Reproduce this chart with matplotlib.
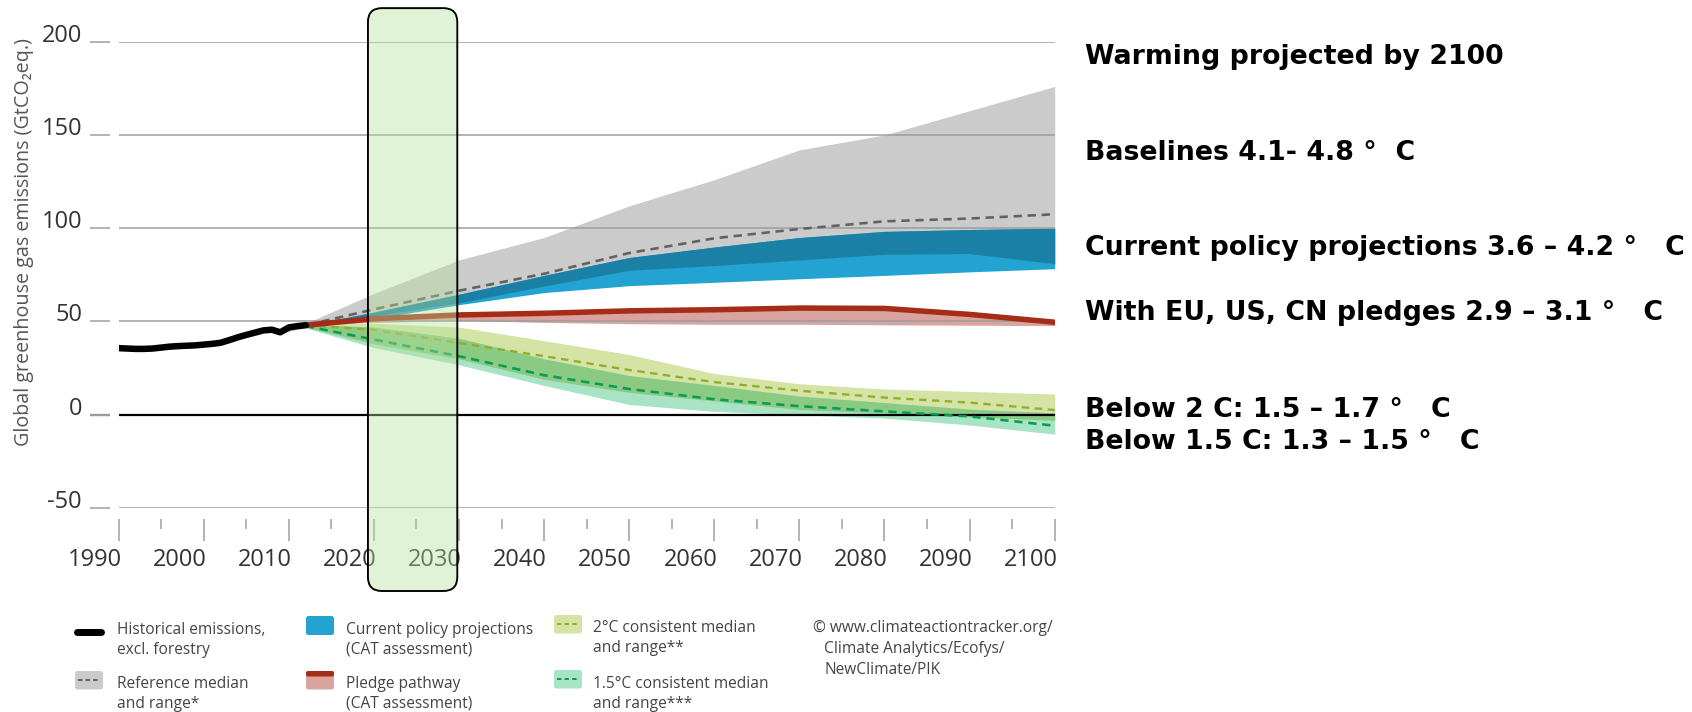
import matplotlib
matplotlib.use("Agg")
import matplotlib.pyplot as plt
import numpy as np
from matplotlib.patches import FancyBboxPatch
from matplotlib.transforms import IdentityTransform, ScaledTranslation
from matplotlib.lines import Line2D

# ---------------- data ----------------
hist_years = list(range(1990, 2013))
hist_vals = [35.7, 35.5, 35.3, 35.3, 35.5, 36.0, 36.5, 36.8, 37.0, 37.2, 37.6, 38.0,
             38.6, 40.0, 41.5, 42.8, 44.0, 45.2, 45.6, 44.2, 46.8, 47.5, 48.0]

proj_years = [2012, 2020, 2030, 2040, 2050, 2060, 2070, 2080, 2090, 2100]

ref_years = [2009, 2012, 2020, 2030, 2040, 2050, 2060, 2070, 2080, 2090, 2100]
ref_upper = [46.0, 49.0, 65.0, 83.0, 95.0, 112.0, 126.0, 142.0, 150.0, 163.0, 176.0]
ref_median = [45.0, 48.0, 56.5, 66.5, 75.6, 86.7, 94.6, 99.6, 103.7, 105.2, 107.5]
ref_lower = [43.5, 47.0, 53.0, 60.0, 69.0, 77.5, 80.0, 83.0, 86.0, 86.4, 81.0]

cur_upper = [48.0, 55.0, 64.6, 74.7, 84.3, 89.9, 95.0, 98.3, 99.3, 100.0]
cur_lower = [48.0, 51.5, 59.0, 65.5, 69.2, 71.0, 72.9, 74.7, 76.6, 78.3]

pledge_upper = [48.0, 51.5, 53.5, 54.4, 55.7, 56.3, 57.2, 57.0, 53.8, 49.6]
pledge_lower = [48.0, 49.5, 50.5, 49.5, 48.8, 48.5, 48.5, 48.2, 48.0, 47.8]

two_upper = [49.0, 49.0, 47.0, 39.7, 32.3, 22.1, 16.6, 13.8, 12.5, 11.1]
two_median = [48.0, 45.5, 38.5, 31.4, 24.0, 17.5, 12.9, 9.2, 6.5, 2.5]
two_lower = [47.0, 38.0, 30.0, 19.0, 12.0, 7.4, 2.8, 0.9, -1.0, -3.0]

one5_upper = [48.5, 47.0, 41.0, 30.0, 21.0, 15.7, 10.0, 6.5, 3.0, 1.0]
one5_median = [47.5, 40.3, 31.4, 21.2, 13.8, 8.3, 4.6, 1.8, -0.9, -5.9]
one5_lower = [46.5, 36.0, 26.8, 15.7, 5.5, 1.8, 0.0, -1.8, -5.5, -10.4]

y_ticks = [-50, 0, 50, 100, 150, 200]
x_major = list(range(1990, 2101, 10))
x_minor = list(range(1995, 2100, 10))

box_years = (2019.3, 2029.8)
box_vals = (218.0, -94.5)

right_texts = ["Warming projected by 2100",
               "Baselines 4.1- 4.8 °  C",
               "Current policy projections 3.6 – 4.2 °   C",
               "With EU, US, CN pledges 2.9 – 3.1 °   C",
               "Below 2 C: 1.5 – 1.7 °   C",
               "Below 1.5 C: 1.3 – 1.5 °   C"]
right_text_y = [57, 153, 248, 313, 410, 442]

legend_labels = [["Historical emissions,", "excl. forestry"],
                 ["Reference median", "and range*"],
                 ["Current policy projections", "(CAT assessment)"],
                 ["Pledge pathway", "(CAT assessment)"],
                 ["2°C consistent median", "and range**"],
                 ["1.5°C consistent median", "and range***"]]
credit_lines = ["© www.climateactiontracker.org/", "Climate Analytics/Ecofys/", "NewClimate/PIK"]

# ---------------- colours ----------------
C_GRAY = "#cbcbcb"
C_GRAY_MED = "#626262"
C_BLUE = "#22a3d1"
C_BLUE_DARK = "#1b80a5"
C_RED = "#a52c17"
C_PINK = "#d9a49f"
C_YG = "#d5e3a4"
C_YG_MED = "#8fae2c"
C_MINT = "#a7e3c4"
C_MINT_MED = "#0a9c55"
C_OVER = "#8bca82"
C_GRID = "#9c9c9c"
C_TXT = "#333333"

W, H = 1692, 712
DPI = 100
SANS = ["Open Sans", "DejaVu Sans"]

fig = plt.figure(figsize=(W / DPI, H / DPI), dpi=DPI)
fig.patch.set_facecolor("white")

ax_left, ax_right = 118.6, 1054.7
ax_top, ax_bot = 41.7, 508.0
ax = fig.add_axes([ax_left / W, 1 - ax_bot / H, (ax_right - ax_left) / W, (ax_bot - ax_top) / H])
ax.set_xlim(1990, 2100)
ax.set_ylim(-50, 200)
ax.patch.set_alpha(0)
for s in ax.spines.values():
    s.set_visible(False)

px2pt = 72.0 / DPI

# bands
ax.fill_between(ref_years, ref_lower, ref_upper, color=C_GRAY, lw=0, zorder=1)
ax.fill_between(proj_years, cur_lower, cur_upper, color=C_BLUE, lw=0, zorder=2)
ov_lo = np.maximum(cur_lower, ref_lower[1:])
ov_hi = np.minimum(cur_upper, ref_upper[1:])
ax.fill_between(proj_years, ov_lo, ov_hi, where=ov_hi >= ov_lo, color=C_BLUE_DARK, lw=0, zorder=2.1)
ax.fill_between(proj_years, pledge_lower, pledge_upper, color=C_PINK, lw=0, zorder=2)
ax.fill_between(proj_years, two_lower, two_upper, color=C_YG, lw=0, zorder=2)
ax.fill_between(proj_years, one5_lower, one5_upper, color=C_MINT, lw=0, zorder=2.05)
g_lo = np.maximum(two_lower, one5_lower)
g_hi = np.minimum(two_upper, one5_upper)
ax.fill_between(proj_years, g_lo, g_hi, where=g_hi >= g_lo, color=C_OVER, lw=0, zorder=2.1)

# gridlines
for v in y_ticks:
    if v == 0:
        ax.axhline(v, color="black", lw=2.2 * px2pt, zorder=3.5)
    else:
        ax.axhline(v, color=C_GRID, lw=1.5 * px2pt, zorder=3)

# lines
ax.plot(ref_years, ref_median, color=C_GRAY_MED, lw=2.6 * px2pt, dashes=(3.2, 2.2), zorder=4)
ax.plot(proj_years, two_median, color=C_YG_MED, lw=2.3 * px2pt, dashes=(3.2, 2.4), zorder=4)
ax.plot(proj_years, one5_median, color=C_MINT_MED, lw=2.6 * px2pt, dashes=(3.2, 2.2), zorder=4)
ax.plot(proj_years, pledge_upper, color=C_RED, lw=5.5 * px2pt, solid_capstyle="round", zorder=4.2)
ax.plot(hist_years, hist_vals, color="black", lw=6.5 * px2pt, solid_capstyle="round",
        solid_joinstyle="round", zorder=4.5)

# y ticks
ax.set_yticks(y_ticks)
ax.set_yticklabels([str(v) for v in y_ticks])
ax.spines["left"].set_position(("outward", 8.5 * px2pt))
ax.tick_params(axis="y", direction="out", length=20 * px2pt, width=1.5 * px2pt, color=C_GRID,
               pad=8 * px2pt, labelsize=17, labelcolor=C_TXT)
for t, v in zip(ax.yaxis.get_major_ticks(), y_ticks):
    t.label1.set_verticalalignment("baseline")
    t.label1.set_fontfamily(SANS)
    if v == 0:
        t.tick1line.set_color("black")
        t.tick1line.set_markeredgewidth(2.4 * px2pt)

# x ticks
ax.set_xticks(x_major)
ax.set_xticks(x_minor, minor=True)
ax.set_xticklabels([str(v) for v in x_major])
ax.spines["bottom"].set_position(("outward", 11 * px2pt))
ax.tick_params(axis="x", which="major", direction="out", length=22 * px2pt, width=1.5 * px2pt,
               color=C_GRID, pad=7 * px2pt, labelsize=17, labelcolor=C_TXT)
ax.tick_params(axis="x", which="minor", direction="out", length=10 * px2pt, width=1.5 * px2pt,
               color=C_GRID)
shift = ScaledTranslation(3 / DPI, 0, fig.dpi_scale_trans)
for lab in ax.get_xticklabels():
    lab.set_horizontalalignment("right")
    lab.set_fontfamily(SANS)
    lab.set_transform(lab.get_transform() + shift)

# y-axis label
fig.text(24 / W, 1 - 242 / H, "Global greenhouse gas emissions (GtCO₂eq.)", rotation=90,
         ha="center", va="center", fontsize=14.2, color="#555555", family=SANS)

# highlight box (drawn over the chart, semi transparent)
p0 = ax.transData.transform((box_years[0], box_vals[1]))
p1 = ax.transData.transform((box_years[1], box_vals[0]))
box = FancyBboxPatch((p0[0], p0[1]), p1[0] - p0[0], p1[1] - p0[1],
                     boxstyle="round,pad=0,rounding_size=14",
                     transform=IdentityTransform(), facecolor=(0.714, 0.882, 0.616, 0.40),
                     edgecolor="black", lw=1.9 * px2pt, zorder=10)
fig.add_artist(box)

# right-hand annotations
for s, y in zip(right_texts, right_text_y):
    fig.text(1085 / W, 1 - y / H, s, ha="left", va="center", fontsize=19.3,
             fontweight="bold", family="DejaVu Sans", color="black")

# ---------------- legend ----------------
def rrect(x, ytop, w, h, color, r=2.5, z=11):
    p = FancyBboxPatch((x, H - ytop - h), w, h, boxstyle=f"round,pad=0,rounding_size={r}",
                       transform=IdentityTransform(), facecolor=color, edgecolor="none", zorder=z)
    fig.add_artist(p)
    return p

def pline(x0, x1, y, color, lw, dashes=None, cap="butt", z=12):
    ln = Line2D([x0, x1], [H - y, H - y], transform=IdentityTransform(), color=color,
                lw=lw * px2pt, solid_capstyle=cap, zorder=z)
    if dashes is not None:
        ln.set_dashes(dashes)
    fig.add_artist(ln)

LEG_FS = 11.2
LEG_COL = "#444444"

def legend_text(x, y1, lines, dy=19.5):
    for i, s in enumerate(lines):
        fig.text(x / W, 1 - (y1 + i * dy) / H, s, ha="left", va="center", fontsize=LEG_FS,
                 color=LEG_COL, family=SANS)

# historical
pline(77, 101, 632, "black", 7, cap="round")
legend_text(117, 630, legend_labels[0])
# reference
rrect(75, 671, 28, 18.5, C_GRAY)
pline(78, 100, 680, C_GRAY_MED, 2, dashes=(2.2, 1.6))
legend_text(117, 684, legend_labels[1])
# current policy
rrect(306, 616, 28, 19, C_BLUE)
legend_text(345.5, 630, legend_labels[2])
# pledge
rrect(306, 671, 28, 18.5, C_PINK)
rrect(306, 671, 28, 5.5, C_RED, r=2, z=12)
legend_text(345.5, 684, legend_labels[3])
# 2C
rrect(554, 615, 28, 18.5, C_YG)
pline(557, 579, 624, C_YG_MED, 2, dashes=(2.2, 1.6))
legend_text(593, 628, legend_labels[4])
# 1.5C
rrect(554, 670, 28, 18.5, C_MINT)
pline(557, 579, 679, C_MINT_MED, 2, dashes=(2.2, 1.6))
legend_text(593, 684, legend_labels[5])
# credits
fig.text(813 / W, 1 - 628 / H, credit_lines[0], ha="left", va="center", fontsize=LEG_FS,
         color=LEG_COL, family=SANS)
for i, s in enumerate(credit_lines[1:]):
    fig.text(824 / W, 1 - (649 + i * 21) / H, s, ha="left", va="center", fontsize=LEG_FS,
             color=LEG_COL, family=SANS)

fig.savefig("out.png", dpi=DPI, facecolor="white")
